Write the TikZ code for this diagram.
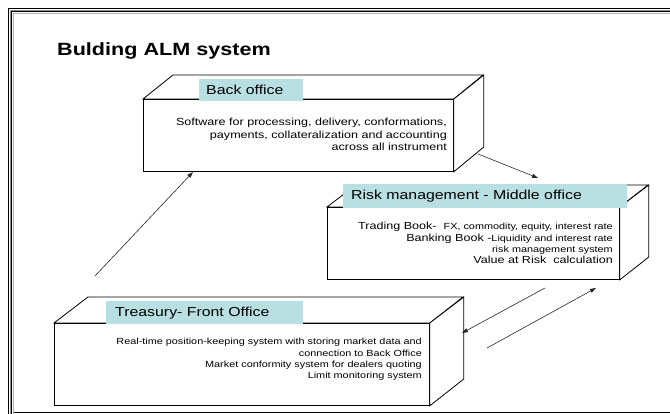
\documentclass[tikz,border=0pt]{standalone}
\usepackage{fontspec}
\setmainfont[FakeStretch=1.22]{Liberation Sans}
\usetikzlibrary{arrows.meta}
\definecolor{labelcyan}{HTML}{B8DFE1}
\definecolor{framegray}{HTML}{8C8C8C}
\tikzset{
  boxline/.style={draw=black, line width=0.8pt, fill=white, line join=miter},
  labelfill/.style={fill=labelcyan, draw=none, inner sep=0pt, anchor=north west},
  labeltext/.style={anchor=base west, inner sep=0pt, font=\fontsize{13}{15}\selectfont},
  bigtxt/.style={anchor=base east, inner sep=0pt, font=\fontsize{10.3}{12}\selectfont},
  smalltxt/.style={anchor=base east, inner sep=0pt, font=\fontsize{8.9}{11}\selectfont},
  flow/.style={draw=black!85, line width=0.6pt, -{Triangle[length=6pt,width=4pt]}},
}
\begin{document}
\begin{tikzpicture}[x=1pt,y=-1pt]
\useasboundingbox (0,0) rectangle (670,414);
% frame
\draw[black, line width=1pt] (8.5,414) -- (8.5,8.5) -- (670,8.5);
\draw[framegray, line width=1.2pt] (10.2,414) -- (10.2,10.2) -- (670,10.2);
\draw[black, line width=1pt] (11.9,414) -- (11.9,11.9) -- (670,11.9);
\draw[framegray!70, line width=1pt] (13.6,414) -- (13.6,13.6) -- (670,13.6);
\draw[black, line width=1.5pt] (14,412.5) -- (670,412.5);
% title
\node[anchor=base west, inner sep=0pt, font=\fontsize{17.7}{20}\selectfont\bfseries] (title) at (57,56) {Bulding ALM system};

% ---------- Back office cube
\node[boxline, minimum width=310pt, minimum height=72pt, inner sep=0pt, anchor=north west] (bo) at (143,99) {};
\draw[boxline] (bo.north west) -- ++(30,-24) -- ++(310,0) -- (bo.north east) -- cycle;
\draw[boxline] (bo.north east) -- ++(30,-24) -- ++(0,72) -- (bo.south east) -- cycle;
\node[labelfill, minimum width=104pt, minimum height=21.5pt] (bolab) at (199,79) {};
\node[labeltext] (botitle) at (206,95) {Back office};
\node[bigtxt] (bo1) at (447,126) {Software for processing, delivery, conformations,};
\node[bigtxt] (bo2) at (447,138.2) {payments, collateralization and accounting};
\node[bigtxt] (bo3) at (447,150.4) {across all instrument};

% ---------- Risk management cube
\node[boxline, minimum width=292pt, minimum height=72pt, inner sep=0pt, anchor=north west] (rm) at (327,207) {};
\draw[boxline] (rm.north west) -- ++(29,-22) -- ++(292,0) -- (rm.north east) -- cycle;
\draw[boxline] (rm.north east) -- ++(29,-22) -- ++(0,72) -- (rm.south east) -- cycle;
\node[labelfill, minimum width=284pt, minimum height=24pt] (rmlab) at (343,184) {};
\node[labeltext] (rmtitle) at (351,199.5) {Risk management - Middle office};
\node[anchor=base east, inner sep=0pt] (rm1) at (613,229.5) {{\fontsize{10.3}{12}\selectfont Trading Book-~ }{\fontsize{8.9}{11}\selectfont FX, commodity, equity, interest rate}};
\node[anchor=base east, inner sep=0pt] (rm2) at (613,241.5) {{\fontsize{10.3}{12}\selectfont Banking Book -}{\fontsize{8.9}{11}\selectfont Liquidity and interest rate}};
\node[smalltxt] (rm3) at (613,252.3) {risk management system};
\node[bigtxt] (rm4) at (613,263.5) {Value at Risk~ calculation};

% ---------- Treasury cube
\node[boxline, minimum width=375pt, minimum height=82pt, inner sep=0pt, anchor=north west] (tr) at (54,323) {};
\draw[boxline] (tr.north west) -- ++(34,-26) -- ++(375,0) -- (tr.north east) -- cycle;
\draw[boxline] (tr.north east) -- ++(34,-26) -- ++(0,82) -- (tr.south east) -- cycle;
\node[labelfill, minimum width=197pt, minimum height=22.5pt] (trlab) at (106,301) {};
\node[labeltext] (trtitle) at (115,316.7) {Treasury- Front Office};
\node[smalltxt] (tr1) at (422,344.6) {Real-time position-keeping system with storing market data and};
\node[smalltxt] (tr2) at (422,356.2) {connection to Back Office};
\node[smalltxt] (tr3) at (422,367.4) {Market conformity system for dealers quoting};
\node[smalltxt] (tr4) at (422,378.9) {Limit monitoring system};

% ---------- arrows
\coordinate (a1s) at (95,276);
\coordinate (a1e) at (193,172);
\coordinate (a2s) at (478,154);
\coordinate (a2e) at (538,178);
\coordinate (a3s) at (545,288);
\coordinate (a3e) at (462,333);
\coordinate (a4s) at (487,348);
\coordinate (a4e) at (596,288);
\draw[flow] (a1s) -- (a1e);
\draw[flow] (a2s) -- (a2e);
\draw[flow] (a3s) -- (a3e);
\draw[flow] (a4s) -- (a4e);
\end{tikzpicture}
\end{document}
